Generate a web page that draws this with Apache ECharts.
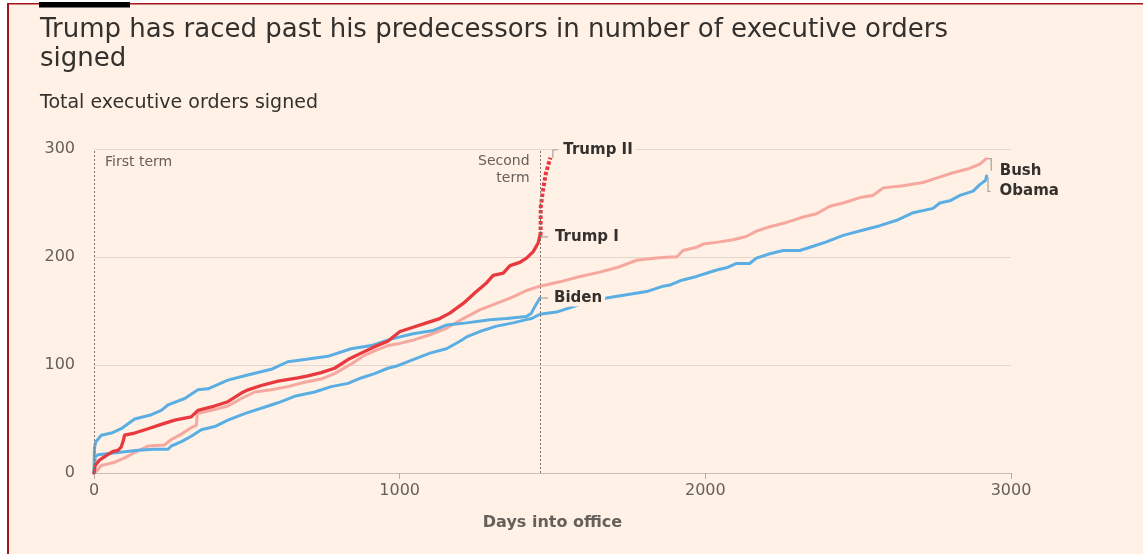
<!DOCTYPE html>
<html>
<head>
<meta charset="utf-8">
<script src="https://cdn.jsdelivr.net/npm/echarts@6/dist/echarts.min.js"></script>
<style>
html,body{margin:0;padding:0;background:#ffffff;}
#chart{width:1143px;height:554px;}
</style>
</head>
<body>
<div id="chart"></div>
<script>
// ---------- DATA ----------
const trump1Days   = [0,4,18,40,62,78,89,96,100,133,177,220,264,318,340,394,438,482,504,547,602,667,700,743,787,831,874,918,961,1001,1044,1088,1131,1164,1208,1251,1284,1306,1339,1361,1393,1415,1437,1453,1459];
const trump1Orders = [0,7,12,16,20,21,24,30,35,37,41,45,49,52,58,62,66,74,77,81,85,88,90,93,97,105,111,117,122,131,135,139,143,148,157,168,176,183,185,192,195,199,205,213,220];

const trump2Days   = [1461,1461.5,1469,1478,1493];
const trump2Orders = [220,246,262,277,292];

const bushDays   = [0,13,24,68,100,133,177,231,253,286,318,335,338,384,438,482,526,580,634,689,743,787,842,885,918,961,1001,1044,1099,1153,1208,1262,1317,1371,1415,1459,1524,1590,1655,1720,1775,1840,1884,1906,1927,1971,1993,2047,2091,2134,2167,2211,2266,2320,2364,2407,2451,2506,2548,2582,2646,2712,2756,2810,2864,2898,2919];
const bushOrders = [0,3,7,10,14,19,25,26,31,36,42,44,55,58,62,69,75,77,80,84,87,92,101,109,113,118,120,123,128,134,143,151,157,163,169,173,177,182,186,191,197,199,200,200,206,209,212,214,216,219,224,228,232,237,240,247,250,255,257,264,266,269,273,278,282,286,291];

const obamaDays   = [0,4,13,78,144,198,242,253,286,318,351,395,438,493,547,602,656,722,776,831,874,918,961,990,1044,1099,1153,1197,1219,1262,1317,1371,1415,1431,1459,1513,1568,1590,1677,1742,1808,1862,1884,1917,1971,2004,2037,2069,2102,2145,2167,2211,2255,2309,2353,2396,2451,2517,2571,2626,2680,2745,2767,2800,2833,2876,2898,2917,2920];
const obamaOrders = [0,15,17,19,21,22,22,25,29,34,40,43,49,55,60,65,71,75,80,83,88,92,97,99,105,111,115,122,126,131,136,139,142,143,147,149,154,156,162,165,168,173,174,178,182,185,188,190,194,194,199,203,206,206,210,214,220,225,229,234,241,245,250,252,257,261,267,271,275];

const bidenDays   = [0,1,2,6,24,57,89,133,188,220,242,297,340,373,438,493,580,634,689,765,841,907,961,1001,1044,1110,1153,1219,1295,1350,1415,1431,1442,1459];
const bidenOrders = [0,17,24,29,35,37,41,50,54,58,63,69,77,78,86,90,96,103,105,108,115,118,123,126,129,132,137,139,142,143,145,148,154,162];

const termStartDays = [0, 1461];
const termLabels = ['First term', 'Second\nterm'];

const titleText = 'Trump has raced past his predecessors in number of executive orders\nsigned';
const subtitleText = 'Total executive orders signed';
const xAxisName = 'Days into office';

// ---------- STYLE ----------
const FONT = 'DejaVu Sans';
const BG = '#fff1e5';
const TEXT_DARK = '#33302e';
const TEXT_MID = '#66605c';
const RED = '#e8393f';
const PINK = '#f6a89e';
const BLUE = '#5aaee3';

const pairs = (xs, ys) => xs.map((x, i) => [x, ys[i]]);

const chart = echarts.init(document.getElementById('chart'), null, {renderer: 'canvas'});

function lineSeries(name, xs, ys, color, width, extra) {
  return Object.assign({
    name: name,
    type: 'line',
    data: pairs(xs, ys),
    symbol: 'none',
    showSymbol: false,
    smooth: false,
    silent: true,
    lineStyle: {color: color, width: width, cap: 'round', join: 'round'},
    itemStyle: {color: color},
    emphasis: {disabled: true}
  }, extra || {});
}

const option = {
  backgroundColor: BG,
  animation: false,
  title: {
    text: titleText,
    subtext: subtitleText,
    left: 40,
    top: 16,
    padding: 0,
    itemGap: 20,
    textStyle: {fontFamily: FONT, fontSize: 26, fontWeight: 'normal', color: TEXT_DARK, lineHeight: 29},
    subtextStyle: {fontFamily: FONT, fontSize: 19, color: TEXT_DARK, lineHeight: 19}
  },
  grid: {left: 94, right: 132, top: 149, bottom: 81, containLabel: false, outerBoundsMode: 'none'},
  xAxis: {
    type: 'value', min: 0, max: 3000, interval: 1000,
    name: xAxisName, nameLocation: 'middle', nameGap: 42,
    nameTextStyle: {fontFamily: FONT, fontSize: 16, fontWeight: 'bold', color: TEXT_MID},
    axisLine: {show: true, lineStyle: {color: '#c9bfb5', width: 1}},
    axisTick: {show: true, length: 6, lineStyle: {color: '#b8aea5'}},
    axisLabel: {margin: 10, color: TEXT_MID, fontSize: 16, fontFamily: FONT, formatter: v => String(v)},
    splitLine: {show: false}
  },
  yAxis: {
    type: 'value', min: 0, max: 300, interval: 100,
    axisLine: {show: false}, axisTick: {show: false},
    axisLabel: {margin: 19, color: TEXT_MID, fontSize: 16, fontFamily: FONT, formatter: v => String(v)},
    splitLine: {show: true, lineStyle: {color: '#e3d7cc', width: 1}}
  },
  series: [
    lineSeries('Bush', bushDays, bushOrders, PINK, 3, {
      markLine: {
        silent: true, symbol: 'none',
        lineStyle: {type: [2, 2], color: '#7d756f', width: 1},
        label: {show: false},
        emphasis: {disabled: true},
        data: termStartDays.map(d => ({xAxis: d}))
      }
    }),
    lineSeries('Obama', obamaDays, obamaOrders, BLUE, 3),
    lineSeries('Biden', bidenDays, bidenOrders, BLUE, 3),
    lineSeries('Trump I', trump1Days, trump1Orders, RED, 3.3),
    lineSeries('Trump II', trump2Days, trump2Orders, RED, 4, {
      lineStyle: {color: RED, width: 4, type: [3.5, 2], cap: 'butt'}
    })
  ]
};

chart.setOption(option);

// ---------- annotations placed from data coordinates ----------
const px = (d, v) => chart.convertToPixel({gridIndex: 0}, [d, v]);
const last = (arr) => arr[arr.length - 1];
const G = [];
const Z = 100;
const CONN = '#a9a19a';
const labelFont = 'bold 15px "' + FONT + '"';

function label(text, x, y) {
  G.push({type: 'text', z: Z + 2, silent: true,
    style: {text: text, x: x - 3, y: y, font: labelFont, fill: TEXT_DARK,
      align: 'left', verticalAlign: 'middle', backgroundColor: BG, padding: [1, 3, 1, 3]}});
}
function poly(points) {
  G.push({type: 'polyline', z: Z + 3, silent: true,
    shape: {points: points}, style: {stroke: CONN, lineWidth: 1.2, fill: null}});
}

// frame
G.push({type: 'rect', z: Z, silent: true, shape: {x: 0, y: 0, width: 7, height: 554}, style: {fill: '#ffffff'}});
G.push({type: 'rect', z: Z, silent: true, shape: {x: 0, y: 0, width: 1143, height: 3}, style: {fill: '#ffffff'}});
G.push({type: 'rect', z: Z, silent: true, shape: {x: 7, y: 3, width: 2, height: 551}, style: {fill: '#a0161b'}});
G.push({type: 'rect', z: Z, silent: true, shape: {x: 7, y: 3, width: 1136, height: 1.5}, style: {fill: '#a0161b'}});
G.push({type: 'rect', z: Z + 1, silent: true, shape: {x: 39, y: 2, width: 91, height: 5.5}, style: {fill: '#000000'}});

// term labels
const top0 = px(termStartDays[0], 300);
const top1 = px(termStartDays[1], 300);
G.push({type: 'text', z: Z, silent: true, style: {text: termLabels[0], x: top0[0] + 11, y: top0[1] + 13,
  font: '14px "' + FONT + '"', fill: TEXT_MID, align: 'left', verticalAlign: 'middle'}});
G.push({type: 'text', z: Z, silent: true, style: {text: termLabels[1], x: top1[0] - 11, y: top1[1] + 21,
  font: '14px "' + FONT + '"', fill: TEXT_MID, align: 'right', verticalAlign: 'middle', lineHeight: 17}});

// Trump II
const t2 = px(last(trump2Days), last(trump2Orders));
const t2LabY = px(0, 300)[1] + 1;
poly([[t2[0] + 2.5, t2[1]], [t2[0] + 2.5, t2LabY], [t2[0] + 7, t2LabY]]);
label('Trump II', t2[0] + 13, t2LabY);

// Trump I
const t1 = px(last(trump1Days), last(trump1Orders));
poly([[t1[0] + 1, t1[1] + 1.5], [t1[0] + 8, t1[1] + 1.5]]);
label('Trump I', t1[0] + 15, t1[1] + 1.5);

// Biden
const bd = px(last(bidenDays), last(bidenOrders));
label('Biden', bd[0] + 14, bd[1]);
poly([[bd[0] + 1, bd[1]], [bd[0] + 8, bd[1]]]);

// Bush
const bu = px(last(bushDays), last(bushOrders));
poly([[bu[0] + 1, bu[1]], [bu[0] + 5, bu[1]], [bu[0] + 5, bu[1] + 12]]);
label('Bush', bu[0] + 13.5, bu[1] + 12.5);

// Obama
const ob = px(last(obamaDays), last(obamaOrders));
poly([[ob[0] + 1.5, ob[1] + 1], [ob[0] + 1.5, ob[1] + 15.5], [ob[0] + 4, ob[1] + 15.5]]);
label('Obama', ob[0] + 13, ob[1] + 15);

chart.setOption({graphic: {elements: G}});
</script>
</body>
</html>
